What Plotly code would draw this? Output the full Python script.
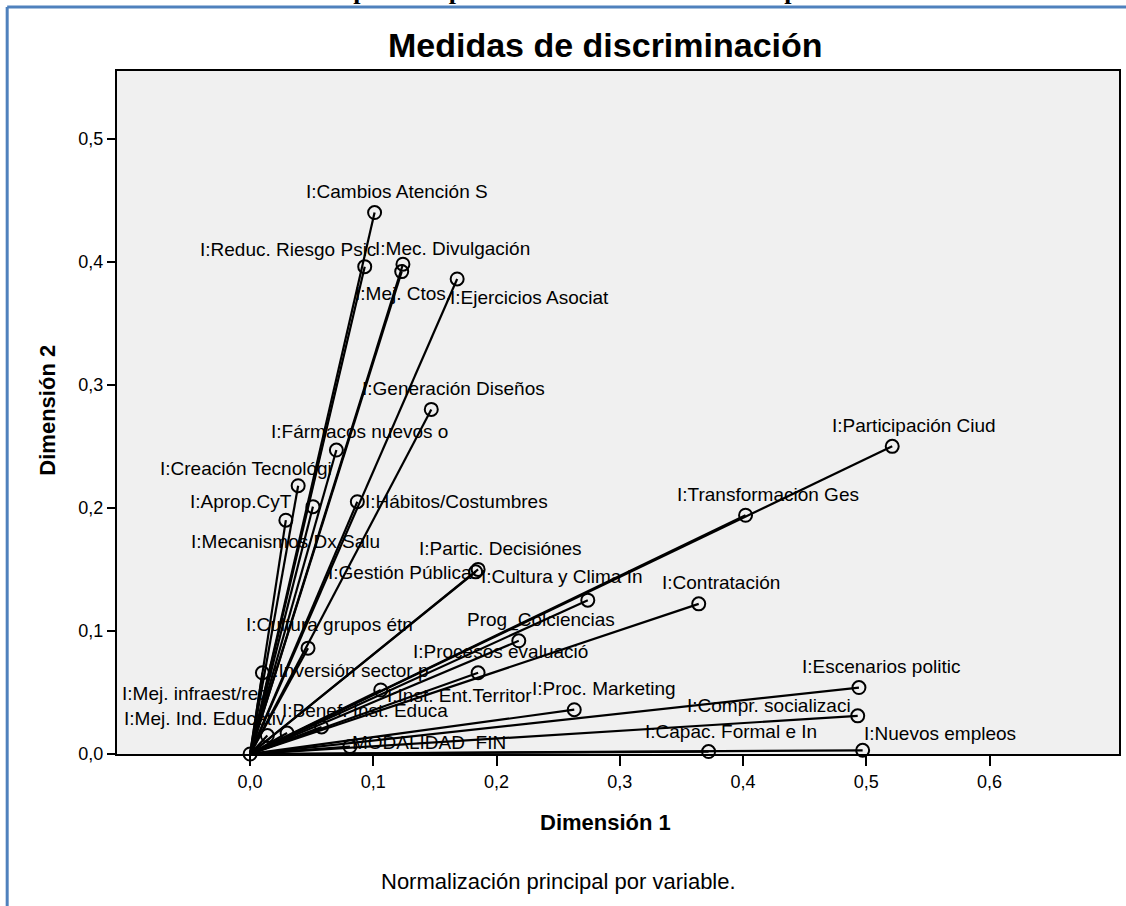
import plotly.graph_objects as go

# Medidas de discriminacion (dim 1, dim 2) por variable
variables = [
    "I:Cambios Atención S", "I:Reduc. Riesgo Psic", "I:Mec. Divulgación", "I:Mej. Ctos.",
    "I:Ejercicios Asociat", "I:Generación Diseños", "I:Fármacos nuevos o", "I:Creación Tecnológi",
    "I:Aprop.CyT", "I:Mecanismos Dx Salu", "I:Hábitos/Costumbres", "I:Partic. Decisiónes",
    "I:Gestión Pública", "I:Cultura y Clima In", "Prog_Colciencias", "I:Transformación Ges",
    "I:Participación Ciud", "I:Contratación", "I:Procesos evaluació", "I:Cultura grupos étn",
    "I:Inversión sector p", "I:Inst. Ent.Territor", "I:Proc. Marketing", "I:Escenarios politic",
    "I:Compr. socializaci", "I:Capac. Formal e In", "I:Nuevos empleos", "MODALIDAD_FIN",
    "I:Benef. Inst. Educa", "I:Mej. Ind. Educativ", "I:Mej. infraest/red", "",
]
dim1 = [
    0.101, 0.093, 0.124, 0.123,
    0.168, 0.147, 0.070, 0.039,
    0.051, 0.029, 0.087, 0.185,
    0.183, 0.274, 0.218, 0.402,
    0.521, 0.364, 0.185, 0.047,
    0.010, 0.106, 0.263, 0.494,
    0.493, 0.372, 0.497, 0.081,
    0.058, 0.014, 0.030, 0.000,
]
dim2 = [
    0.440, 0.396, 0.398, 0.392,
    0.386, 0.280, 0.247, 0.218,
    0.201, 0.190, 0.205, 0.150,
    0.148, 0.125, 0.092, 0.194,
    0.250, 0.122, 0.066, 0.086,
    0.066, 0.052, 0.036, 0.054,
    0.031, 0.002, 0.003, 0.006,
    0.022, 0.015, 0.017, 0.000,
]

x_ticks = [0.0, 0.1, 0.2, 0.3, 0.4, 0.5, 0.6]
y_ticks = [0.0, 0.1, 0.2, 0.3, 0.4, 0.5]

# desplazamiento de cada etiqueta respecto a su punto (px, derecha / abajo)
desplaz = [
    (22, -21), (-77, -17), (50, -16), (1, 22),
    (72, 19), (22, -21), (23, -19), (-52, -17),
    (-72, -5), (0, 21), (99, 0), (22, -21),
    (-76, 1), (-26, -24), (22, -21), (22, -21),
    (22, -21), (22, -21), (22, -21), (21, -24),
    (86, -2), (79, 5), (30, -21), (22, -21),
    (-89, -10), (22, -20), (77, -17), (79, -4),
    (43, -16), (-62, -17), (-92, -40), (0, 0),
]

FUENTE = "Liberation Sans, Arial, sans-serif"

fig = go.Figure()

# vectores desde el origen
for nombre, x, y in zip(variables, dim1, dim2):
    fig.add_trace(go.Scatter(
        x=[0, x], y=[0, y], mode="lines",
        line=dict(color="black", width=2.2),
        hoverinfo="skip", showlegend=False, cliponaxis=False,
    ))

fig.add_trace(go.Scatter(
    x=dim1, y=dim2, mode="markers", text=variables,
    marker=dict(symbol="circle-open", size=13, color="black", line=dict(width=2, color="black")),
    hovertemplate="%{text}<br>%{x:.3f}, %{y:.3f}<extra></extra>",
    showlegend=False, cliponaxis=False,
))

for nombre, x, y, (dx, dy) in zip(variables, dim1, dim2, desplaz):
    if not nombre:
        continue
    fig.add_annotation(
        x=x, y=y, xref="x", yref="y", text=nombre, showarrow=False,
        xshift=dx, yshift=-dy, xanchor="center", yanchor="middle",
        font=dict(family=FUENTE, size=19, color="black"),
    )

# textos fuera del area de trazado
fig.add_annotation(
    text="<b>Gráfico 3. Mapa Perceptual de los Indicadores de Impacto Social</b>",
    xref="paper", yref="paper", x=0.44, y=1.118, showarrow=False,
    xanchor="center", yanchor="middle",
    font=dict(family="Liberation Serif, Times New Roman, serif", size=26, color="black"),
)
fig.add_annotation(
    text="<b>Medidas de discriminación</b>", xref="paper", yref="paper",
    x=0.488, y=1.038, showarrow=False, xanchor="center", yanchor="middle",
    font=dict(family=FUENTE, size=34, color="black"),
)
fig.add_annotation(
    text="<b>Dimensión 1</b>", xref="paper", yref="paper",
    x=0.488, y=-0.101, showarrow=False, xanchor="center", yanchor="middle",
    font=dict(family=FUENTE, size=22, color="black"),
)
fig.add_annotation(
    text="<b>Dimensión 2</b>", xref="paper", yref="paper", textangle=-90,
    x=-0.069, y=0.504, showarrow=False, xanchor="center", yanchor="middle",
    font=dict(family=FUENTE, size=22, color="black"),
)
fig.add_annotation(
    text="Normalización principal por variable.", xref="paper", yref="paper",
    x=0.441, y=-0.186, showarrow=False, xanchor="center", yanchor="middle",
    font=dict(family=FUENTE, size=22, color="black"),
)

# marco azul del documento
fig.add_shape(type="line", xref="paper", yref="paper", x0=-0.1096, x1=1.01, y0=1.0937, y1=1.0937,
              line=dict(color="#4f81bd", width=3))
fig.add_shape(type="line", xref="paper", yref="paper", x0=-0.1096, x1=-0.1096, y0=1.0937, y1=-0.23,
              line=dict(color="#4f81bd", width=3))

fig.update_layout(
    width=1126, height=906,
    margin=dict(l=117, r=5, t=71, b=152),
    paper_bgcolor="white", plot_bgcolor="#f0f0f0",
    font=dict(family=FUENTE, color="black"),
    showlegend=False,
)
fig.update_xaxes(
    range=[-0.108, 0.705], tickvals=x_ticks,
    ticktext=[f"{v:.1f}".replace(".", ",") for v in x_ticks],
    ticks="outside", ticklen=10, tickwidth=2, tickcolor="black",
    showline=True, linecolor="black", linewidth=2, mirror=True,
    showgrid=False, zeroline=False, tickfont=dict(size=18),
)
fig.update_yaxes(
    range=[0, 0.555], tickvals=y_ticks,
    ticktext=[f"{v:.1f}".replace(".", ",") for v in y_ticks],
    ticks="outside", ticklen=8, tickwidth=2, tickcolor="black",
    showline=True, linecolor="black", linewidth=2, mirror=True,
    showgrid=False, zeroline=False, tickfont=dict(size=18),
)

# sin margen del <body>, para que la figura empiece en la esquina
fig.write_html("out.html", config={"displayModeBar": False},
               post_script="document.body.style.margin='0';")
